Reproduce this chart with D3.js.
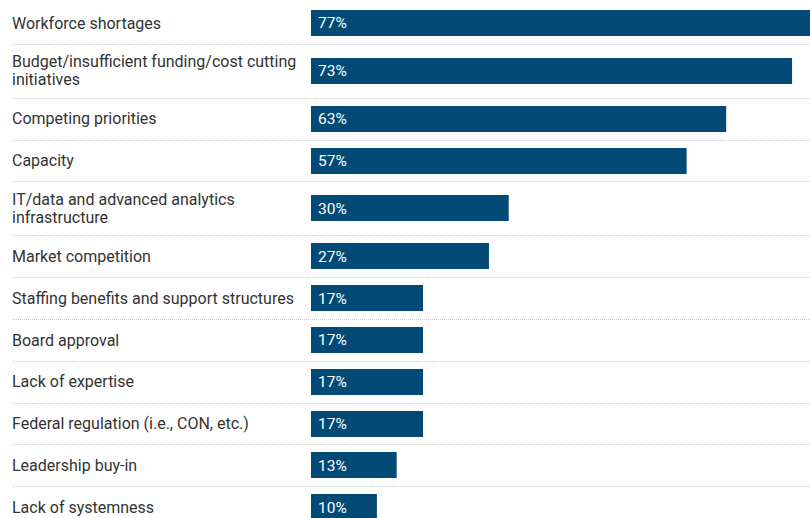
<!DOCTYPE html>
<html>
<head>
<meta charset="utf-8">
<script src="https://cdn.jsdelivr.net/npm/d3@7"></script>
<style>
  html, body { margin: 0; padding: 0; background: #fff; }
  svg { display: block; font-family: Roboto, "Noto Sans", sans-serif; }
</style>
</head>
<body>
<div id="chart"></div>
<script>
const W = 810;
const H = 518;

// labels with manual line breaks where the original wraps
const categories = [
  'Workforce shortages',
  'Budget/insufficient funding/cost cutting\ninitiatives',
  'Competing priorities',
  'Capacity',
  'IT/data and advanced analytics\ninfrastructure',
  'Market competition',
  'Staffing benefits and support structures',
  'Board approval',
  'Lack of expertise',
  'Federal regulation (i.e., CON, etc.)',
  'Leadership buy-in',
  'Lack of systemness'
];
const values = [77, 73, 63, 57, 30, 27, 17, 17, 17, 17, 13, 10];

const labelX = 12;
const barX = 311;
const barH = 26;
const lineH = 18;
const startY = 2;

const rows = categories.map((c, i) => {
  const lines = c.split('\n');
  return { label: c, lines, value: values[i], h: lines.length > 1 ? 54 : 41.8 };
});
let acc = startY;
rows.forEach(r => { r.y0 = acc; acc += r.h; r.cy = r.y0 + r.h / 2; });

const x = d3.scaleLinear().domain([0, 100]).range([barX, barX + 659]);

const svg = d3.select('#chart').append('svg')
  .attr('width', W)
  .attr('height', H);

// dotted separators between rows
svg.append('g')
  .selectAll('line')
  .data(rows.slice(1))
  .join('line')
  .attr('x1', labelX)
  .attr('x2', W)
  .attr('y1', d => Math.round(d.y0) + 0.5)
  .attr('y2', d => Math.round(d.y0) + 0.5)
  .attr('stroke', '#c8c8c8')
  .attr('stroke-width', 1)
  .attr('stroke-dasharray', '1,1');

const row = svg.append('g')
  .selectAll('g')
  .data(rows)
  .join('g');

row.append('rect')
  .attr('x', x(0))
  .attr('y', d => Math.round(d.cy - barH / 2))
  .attr('width', d => x(d.value) - x(0))
  .attr('height', barH)
  .attr('fill', '#024a76');

row.append('text')
  .attr('y', d => d.cy - (d.lines.length - 1) * lineH / 2)
  .attr('font-size', 16)
  .attr('fill', '#333')
  .selectAll('tspan')
  .data(d => d.lines)
  .join('tspan')
  .attr('x', labelX)
  .attr('dy', (d, i) => i === 0 ? '0.35em' : lineH)
  .text(d => d);

row.append('text')
  .attr('x', x(0) + 7)
  .attr('y', d => d.cy)
  .attr('dy', '0.36em')
  .attr('font-size', 15.5)
  .attr('fill', '#fff')
  .text(d => d.value + '%');
</script>
</body>
</html>
